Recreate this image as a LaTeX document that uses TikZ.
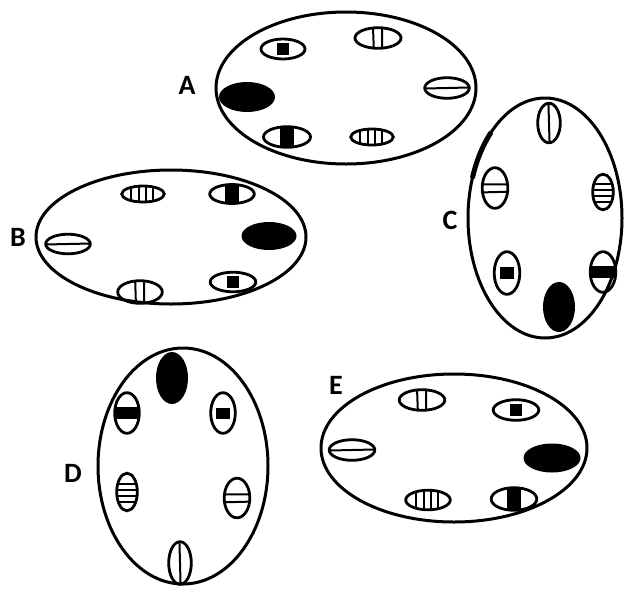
\documentclass[tikz,border=0pt]{standalone}
\usepackage{fontspec}
\setmainfont{Carlito}
\begin{document}
\begin{tikzpicture}[x=1pt,y=-1pt,
  big/.style={line width=3pt},
  chrline/.style={line width=2.8pt},
  inner/.style={line width=2pt},
  lab/.style={font=\bfseries\fontsize{28}{30}\selectfont, inner sep=0pt},
  pics/blob/.style={code={\fill (0,0) ellipse (1 and 1);}},
  pics/eye/.style={code={
    \draw[chrline] (0,0) ellipse (1 and 1);
    \fill (-0.28,-0.58) rectangle (0.26,0.58);}},
  pics/band/.style={code={
    \begin{scope}\clip (0,0) ellipse (1 and 1);
      \fill (-0.3,-1.2) rectangle (0.3,1.2);\end{scope}
    \draw[chrline] (0,0) ellipse (1 and 1);}},
  pics/oneline/.style={code={
    \draw[inner] (-1,0.05) -- (1,-0.05);
    \draw[chrline] (0,0) ellipse (1 and 1);}},
  pics/twolines/.style={code={
    \begin{scope}\clip (0,0) ellipse (1 and 1);
      \draw[inner] (-0.22,-1.2) -- (-0.18,1.2) (0.18,-1.2) -- (0.18,1.2);\end{scope}
    \draw[chrline] (0,0) ellipse (1 and 1);}},
  pics/stripes/.style={code={
    \begin{scope}\clip (0,0) ellipse (1 and 1);
      \draw[inner] (-0.55,-1.2) -- (-0.55,1.2) (-0.2,-1.2) -- (-0.2,1.2)
        (0.12,-1.2) -- (0.12,1.2) (0.45,-1.2) -- (0.45,1.2);\end{scope}
    \draw[chrline] (0,0) ellipse (1 and 1);}}
]
\useasboundingbox[fill=white] (0,0) rectangle (627,590);

% A
\draw[big] (346,88) ellipse (130 and 76);
\node[lab] (la) at (187,85) {A};
\pic[xscale=22,yscale=10] at (283,49) {eye};
\pic[xscale=23,yscale=10.3] at (378,38) {twolines};
\pic[xscale=22.3,yscale=10.3] at (447,88) {oneline};
\pic[xscale=28,yscale=15] at (247,97) {blob};
\pic[xscale=23.5,yscale=10.3] at (287,137) {band};
\pic[xscale=21.3,yscale=8] at (372,137) {stripes};

% B
\draw[big] (171,237) ellipse (135 and 67);
\node[lab] (lb) at (18,237) {B};
\pic[xscale=21.3,yscale=8] at (143,194) {stripes};
\pic[xscale=22.3,yscale=9.5] at (232,194) {band};
\pic[xscale=22.3,yscale=9.8] at (68,244) {oneline};
\pic[xscale=27.5,yscale=14] at (269,236) {blob};
\pic[xscale=22.8,yscale=9.8] at (233,282) {eye};
\pic[xscale=22.3,yscale=11.3] at (140,292) {twolines};

% C
\draw[big] (545,218) ellipse (77 and 120);
\draw[line width=5pt, line cap=round] plot[domain=-160:-135, smooth, samples=12]
  ({545+77*cos(\x)},{218+120*sin(\x)});
\node[lab] (lc) at (450,220) {C};
\pic[rotate=90,xscale=19.8,yscale=11.3] at (549,123) {oneline};
\pic[rotate=90,xscale=20.3,yscale=12.8] at (495,188) {twolines};
\pic[rotate=90,xscale=17.8,yscale=10.3] at (603,192) {stripes};
\pic[rotate=90,xscale=21.3,yscale=12.8] at (507,273) {eye};
\pic[rotate=90,xscale=20.3,yscale=12.8] at (603,272) {band};
\pic[rotate=90,xscale=25,yscale=16] at (559,307) {blob};

% D
\draw[big] (183,466) ellipse (85 and 118);
\node[lab] (ld) at (73,473) {D};
\pic[rotate=90,xscale=26,yscale=16] at (172,378) {blob};
\pic[rotate=90,xscale=20.3,yscale=12.3] at (127,413) {band};
\pic[rotate=90,xscale=20.3,yscale=12.3] at (223,413) {eye};
\pic[rotate=90,xscale=18.8,yscale=10.3] at (127,492) {stripes};
\pic[rotate=90,xscale=19.8,yscale=12.8] at (237,498) {twolines};
\pic[rotate=90,xscale=21.3,yscale=11.3] at (180,563) {oneline};

% E
\draw[big] (454,448) ellipse (133 and 74);
\node[lab] (le) at (336,385) {E};
\pic[xscale=22.8,yscale=10.3] at (422,400) {twolines};
\pic[xscale=22.8,yscale=10.3] at (516,410) {eye};
\pic[xscale=22.8,yscale=10.3] at (352,450) {oneline};
\pic[xscale=28.5,yscale=14.5] at (552,458) {blob};
\pic[xscale=22.3,yscale=9.8] at (428,500) {stripes};
\pic[xscale=22.8,yscale=11.3] at (514,499) {band};
\end{tikzpicture}
\end{document}
